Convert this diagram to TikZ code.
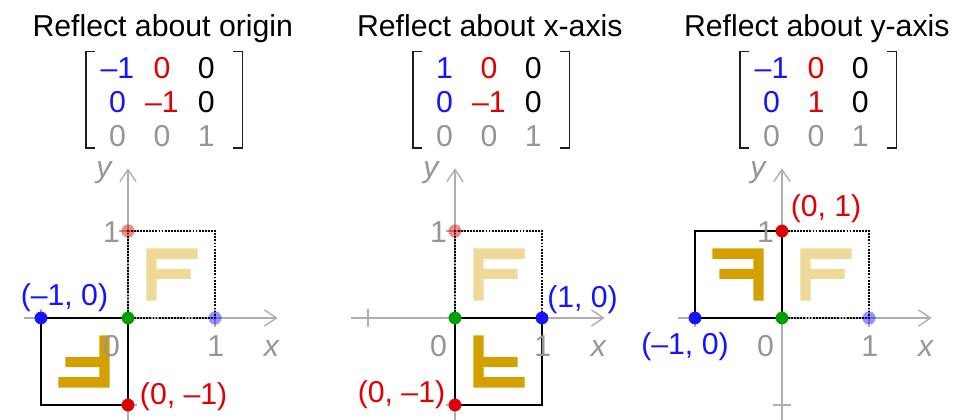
\documentclass[tikz,border=0pt]{standalone}
\usepackage{fontspec}
\setmainfont{Liberation Sans}
\usepackage{array}
\usetikzlibrary{arrows.meta}

\definecolor{ptblue}{RGB}{20,20,255}
\definecolor{ptred}{RGB}{225,0,0}
\definecolor{ptgreen}{RGB}{0,160,0}
\definecolor{fgold}{RGB}{212,160,0}
\definecolor{lblgray}{RGB}{150,150,150}
\definecolor{axgray}{RGB}{175,175,175}

\newcolumntype{M}{w{c}{23.2pt}}
\setlength{\tabcolsep}{4.2pt}

\newcommand{\shapeF}[1]{\fill[#1] (0.21,0.2) -- (0.33,0.2) -- (0.33,0.45) -- (0.72,0.45) -- (0.72,0.565) -- (0.33,0.565) -- (0.33,0.68) -- (0.8,0.68) -- (0.8,0.8) -- (0.21,0.8) -- cycle;}

\newcommand{\drawaxes}{%
  \draw[axis] (-1.2,0) -- (1.72,0);
  \draw[axis] (0,-1.25) -- (0,1.72);
  \foreach \t in {-1,1} {
    \draw[tick] (\t,-0.1) -- (\t,0.1);
    \draw[tick] (-0.1,\t) -- (0.1,\t);
  }}

\newcommand{\axislabels}[1]{%
  \node[axlbl] (x#1) at (1.65,-0.448) {\itshape x};
  \node[axlbl] (y#1) at (-0.276,1.62) {\itshape y};
  \node[axlbl] (o#1) at (-0.19,-0.448) {0};
  \node[axlbl] (ox#1) at (1.01,-0.448) {1};
  \node[axlbl] (oy#1) at (-0.19,0.862) {1};}

\newcommand{\brackets}{%
  \draw[brk] (-0.38,3.061) -- (-0.483,3.061) -- (-0.483,1.954) -- (-0.38,1.954);
  \draw[brk] (1.211,3.061) -- (1.314,3.061) -- (1.314,1.954) -- (1.211,1.954);}

\begin{document}
\begin{tikzpicture}[
  x=2.175cm, y=2.175cm,
  font=\fontsize{21.5}{24}\selectfont,
  axis/.style={draw=axgray, line width=1pt, -{Straight Barb[length=8.5pt,width=11.5pt]}},
  tick/.style={draw=axgray, line width=1pt},
  axlbl/.style={lblgray, anchor=base, inner sep=0pt},
  ttl/.style={anchor=base, inner sep=0pt},
  mat/.style={anchor=base, inner sep=0pt},
  brk/.style={draw={rgb,255:red,30;green,30;blue,30}, line width=0.9pt},
  orig/.style={draw=black, line width=1.6pt, dash pattern=on 1.3pt off 0.9pt},
  img/.style={draw=black, line width=1pt},
  clbl/.style={anchor=base, inner sep=0pt},
  pt/.style={circle, fill=#1, inner sep=0pt, minimum size=0.32cm},
  ghost/.style={circle, fill=#1, fill opacity=0.45, draw=#1, draw opacity=0.6, densely dotted, inner sep=0pt, minimum size=0.32cm}
]
\useasboundingbox (-1.471,-1.172) rectangle (9.655,3.655);

% reflect about origin
\begin{scope}
  \node[ttl] (ta) at (0.40,3.241) {Reflect about origin};
  \node[mat] (ma) at (0.39,2.747) {\begin{tabular}[t]{@{}MMM@{}}
    \textcolor{ptblue}{–1} & \textcolor{ptred}{0} & 0\\
    \textcolor{ptblue}{0} & \textcolor{ptred}{–1} & 0\\
    \textcolor{lblgray}{0} & \textcolor{lblgray}{0} & \textcolor{lblgray}{1}
  \end{tabular}};
  \brackets
  \drawaxes
  \shapeF{fgold, fill opacity=0.4}
  \draw[orig] (0,0) rectangle (1,1);
  \draw[img] (-1,-1) rectangle (0,0);
  \begin{scope}[scale=-1]
    \shapeF{fgold}
  \end{scope}
  \axislabels{a}
  \node[ghost=ptblue] (ga1) at (1,0) {};
  \node[ghost=ptred] (ga2) at (0,1) {};
  \node[pt=ptgreen] (pa0) at (0,0) {};
  \node[pt=ptblue] (pa1) at (-1,0) {};
  \node[pt=ptred] (pa2) at (0,-1) {};
  \node[clbl, ptblue] (la1) at (-0.73,0.149) {(–1, 0)};
  \node[clbl, ptred] (la2) at (0.64,-1.0) {(0, –1)};
\end{scope}

% reflect about x-axis
\begin{scope}[shift={(3.7586,0)}]
  \node[ttl] (tb) at (0.40,3.241) {Reflect about x-axis};
  \node[mat] (mb) at (0.39,2.747) {\begin{tabular}[t]{@{}MMM@{}}
    \textcolor{ptblue}{1} & \textcolor{ptred}{0} & 0\\
    \textcolor{ptblue}{0} & \textcolor{ptred}{–1} & 0\\
    \textcolor{lblgray}{0} & \textcolor{lblgray}{0} & \textcolor{lblgray}{1}
  \end{tabular}};
  \brackets
  \drawaxes
  \shapeF{fgold, fill opacity=0.4}
  \draw[orig] (0,0) rectangle (1,1);
  \draw[img] (0,-1) rectangle (1,0);
  \begin{scope}[yscale=-1]
    \shapeF{fgold}
  \end{scope}
  \axislabels{b}
  \node[ghost=ptred] (gb2) at (0,1) {};
  \node[pt=ptgreen] (pb0) at (0,0) {};
  \node[pt=ptblue] (pb1) at (1,0) {};
  \node[pt=ptred] (pb2) at (0,-1) {};
  \node[clbl, ptblue] (lb1) at (1.466,0.115) {(1, 0)};
  \node[clbl, ptred] (lb2) at (-0.615,-0.977) {(0, –1)};
\end{scope}

% reflect about y-axis
\begin{scope}[shift={(7.5172,0)}]
  \node[ttl] (tc) at (0.40,3.241) {Reflect about y-axis};
  \node[mat] (mc) at (0.39,2.747) {\begin{tabular}[t]{@{}MMM@{}}
    \textcolor{ptblue}{–1} & \textcolor{ptred}{0} & 0\\
    \textcolor{ptblue}{0} & \textcolor{ptred}{1} & 0\\
    \textcolor{lblgray}{0} & \textcolor{lblgray}{0} & \textcolor{lblgray}{1}
  \end{tabular}};
  \brackets
  \drawaxes
  \shapeF{fgold, fill opacity=0.4}
  \draw[img] (-1,0) rectangle (0,1);
  \draw[orig] (0,0) rectangle (1,1);
  \begin{scope}[xscale=-1]
    \shapeF{fgold}
  \end{scope}
  \axislabels{c}
  \node[ghost=ptblue] (gc1) at (1,0) {};
  \node[pt=ptgreen] (pc0) at (0,0) {};
  \node[pt=ptblue] (pc1) at (-1,0) {};
  \node[pt=ptred] (pc2) at (0,1) {};
  \node[clbl, ptblue] (lc1) at (-1.115,-0.425) {(–1, 0)};
  \node[clbl, ptred] (lc2) at (0.506,1.161) {(0, 1)};
\end{scope}
\end{tikzpicture}
\end{document}
